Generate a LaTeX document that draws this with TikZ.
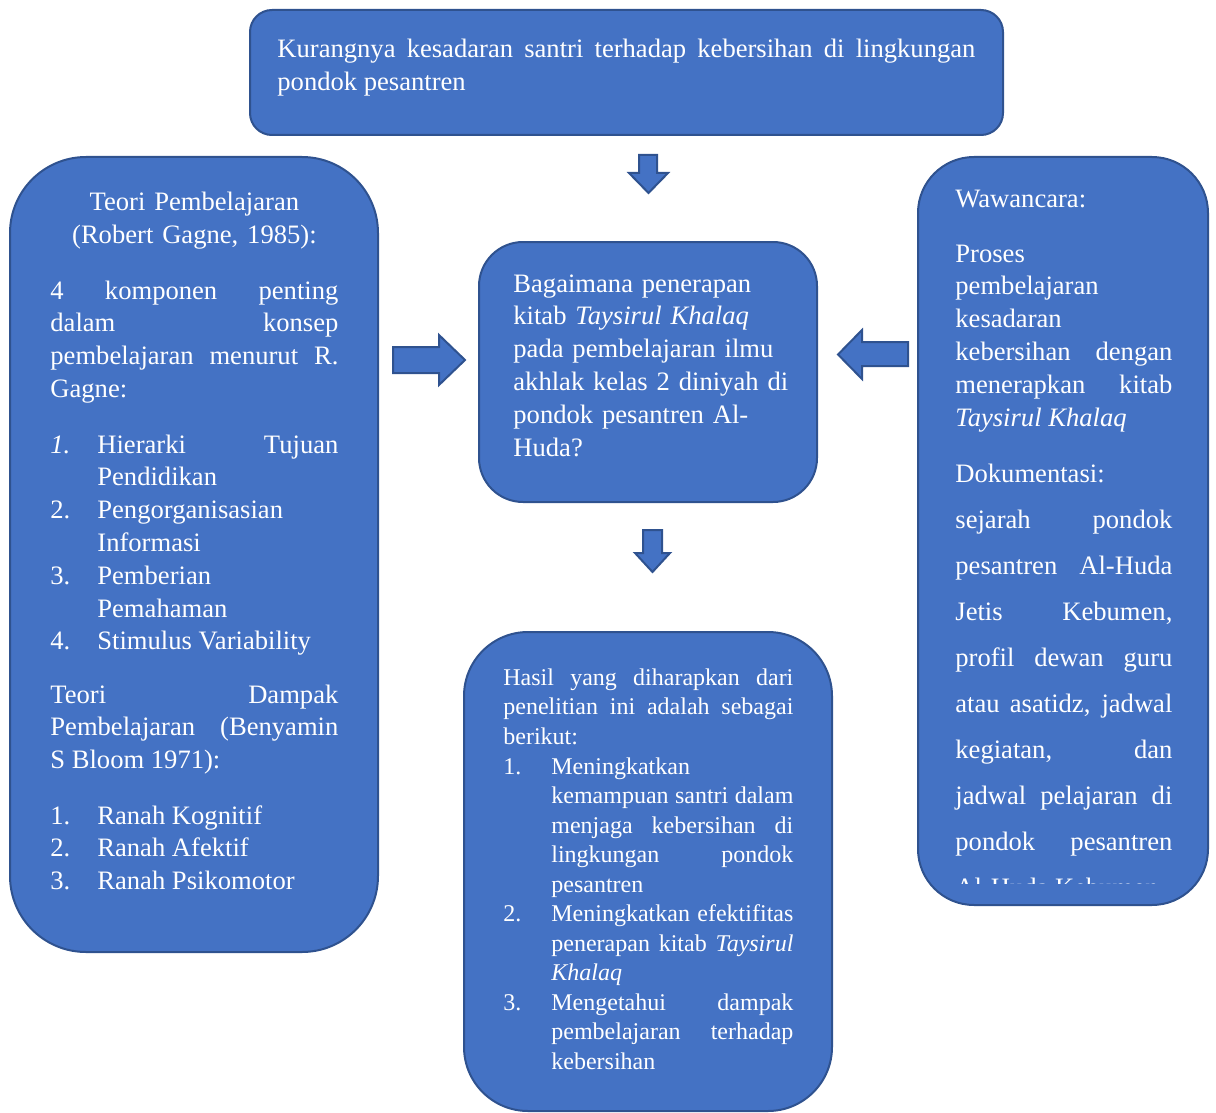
\documentclass[tikz,border=0pt]{standalone}
\usepackage{fontspec}
\setmainfont{Liberation Serif}
\usetikzlibrary{fit}

\definecolor{biru}{HTML}{4472C4}
\definecolor{birutua}{HTML}{2F528F}

\newcommand\hurufbesar{\fontsize{13.3}{16.4}\selectfont}
\newcommand\hurufkecil{\fontsize{12}{14.75}\selectfont}
\newlength\butirjarak
\newcommand\butir[2]{\hangindent=\butirjarak\hangafter=1\makebox[\butirjarak][l]{#1}#2\par}
\hbadness=10000

\tikzset{
  kotak/.style={draw=birutua, fill=biru, line width=1pt, inner sep=0pt},
  panah/.style={draw=birutua, fill=biru, line width=1pt, line join=miter},
  isi/.style={text=white, inner sep=0pt, anchor=base west, align=justify, font=\hurufbesar},
  isikecil/.style={isi, font=\hurufkecil},
}

\begin{document}
\begin{tikzpicture}[x=0.5pt,y=-0.5pt]
\useasboundingbox (0,0) rectangle (1216,1113);

% kotak-kotak
\node[kotak, rounded corners=11pt, fit={(250,10) (1003,135)}] (masalah) {};
\node[kotak, rounded corners=38pt, fit={(10,157) (378,952)}] (teori) {};
\node[kotak, rounded corners=22pt, fit={(479,242) (817,502)}] (rumusan) {};
\node[kotak, rounded corners=28pt, fit={(918,157) (1208,905)}] (metode) {};
\node[kotak, rounded corners=32pt, fit={(464,632) (832,1111)}] (hasil) {};

% panah
\filldraw[panah] (639,155) -- (657,155) -- (657,173) -- (668,173) -- (648.5,193) -- (629,173) -- (639,173) -- cycle;
\filldraw[panah] (393,347) -- (439,347) -- (439,335) -- (465,360) -- (439,385) -- (439,373) -- (393,373) -- cycle;
\filldraw[panah] (908,342) -- (862,342) -- (862,330) -- (838,354.5) -- (862,379) -- (862,366) -- (908,366) -- cycle;
\filldraw[panah] (643,530) -- (662,530) -- (662,553) -- (670,553) -- (652.5,572) -- (635,553) -- (643,553) -- cycle;

% masalah
\node[isi, text width=349pt] (tmasalah) at (277,58)
  {Kurangnya kesadaran santri terhadap kebersihan di lingkungan\linebreak pondok pesantren};

% teori
\node[isi, text width=144pt, align=center] (tjudul) at (50,211)
  {Teori Pembelajaran\\(Robert Gagne, 1985):};
\node[isi, text width=144pt] (tgagne) at (50,299)
  {4 komponen penting\linebreak dalam konsep\linebreak pembelajaran menurut R.\linebreak Gagne:};
\node[isi, text width=144pt] (tdaftar1) at (50,453)
  {\setlength\butirjarak{23.5pt}%
   \butir{\textit{1.}}{Hierarki Tujuan\linebreak Pendidikan}%
   \butir{2.}{Pengorganisasian\newline Informasi}%
   \butir{3.}{Pemberian\newline Pemahaman}%
   \butir{4.}{Stimulus Variability}};
\node[isi, text width=144pt] (tbloom) at (50,703)
  {Teori Dampak\linebreak Pembelajaran (Benyamin\linebreak S Bloom 1971):};
\node[isi, text width=144pt] (tdaftar2) at (50,824)
  {\setlength\butirjarak{23.5pt}%
   \butir{1.}{Ranah Kognitif}%
   \butir{2.}{Ranah Afektif}%
   \butir{3.}{Ranah Psikomotor}};

% rumusan
\node[isi, text width=145pt, align=left] (trumusan) at (513,292)
  {Bagaimana penerapan\\kitab \textit{Taysirul Khalaq}\\pada pembelajaran ilmu\\akhlak kelas 2 diniyah di\\pondok pesantren Al-\\Huda?};

% metode
\node[isi, text width=108.5pt] (twawancara) at (955,207) {Wawancara:};
\node[isi, text width=108.5pt] (tproses) at (955,262)
  {Proses\newline pembelajaran\newline kesadaran\newline kebersihan dengan\linebreak menerapkan kitab\linebreak \textit{Taysirul Khalaq}};
\node[isi, text width=108.5pt] (tdokumen) at (955,482) {Dokumentasi:};
\begin{scope}
  \clip (918,157) rectangle (1208,883);
  \node[isi, text width=108.5pt, font=\fontsize{13.3}{23}\selectfont] (tsejarah) at (955,528)
    {sejarah pondok\linebreak pesantren Al-Huda\linebreak Jetis Kebumen,\linebreak profil dewan guru\linebreak atau asatidz, jadwal\linebreak kegiatan, dan\linebreak jadwal pelajaran di\linebreak pondok pesantren\linebreak Al-Huda Kebumen};
\end{scope}

% hasil
\node[isikecil, text width=145pt] (thasil) at (503,685)
  {Hasil yang diharapkan dari\linebreak penelitian ini adalah sebagai\linebreak berikut:};
\node[isikecil, text width=145pt] (tdaftar3) at (503,774)
  {\setlength\butirjarak{24pt}%
   \butir{1.}{Meningkatkan\newline kemampuan santri dalam\linebreak menjaga kebersihan di\linebreak lingkungan pondok\linebreak pesantren}%
   \butir{2.}{Meningkatkan efektifitas\linebreak penerapan kitab \textit{Taysirul}\linebreak \textit{Khalaq}}%
   \butir{3.}{Mengetahui dampak\linebreak pembelajaran terhadap\linebreak kebersihan}};
\end{tikzpicture}
\end{document}
